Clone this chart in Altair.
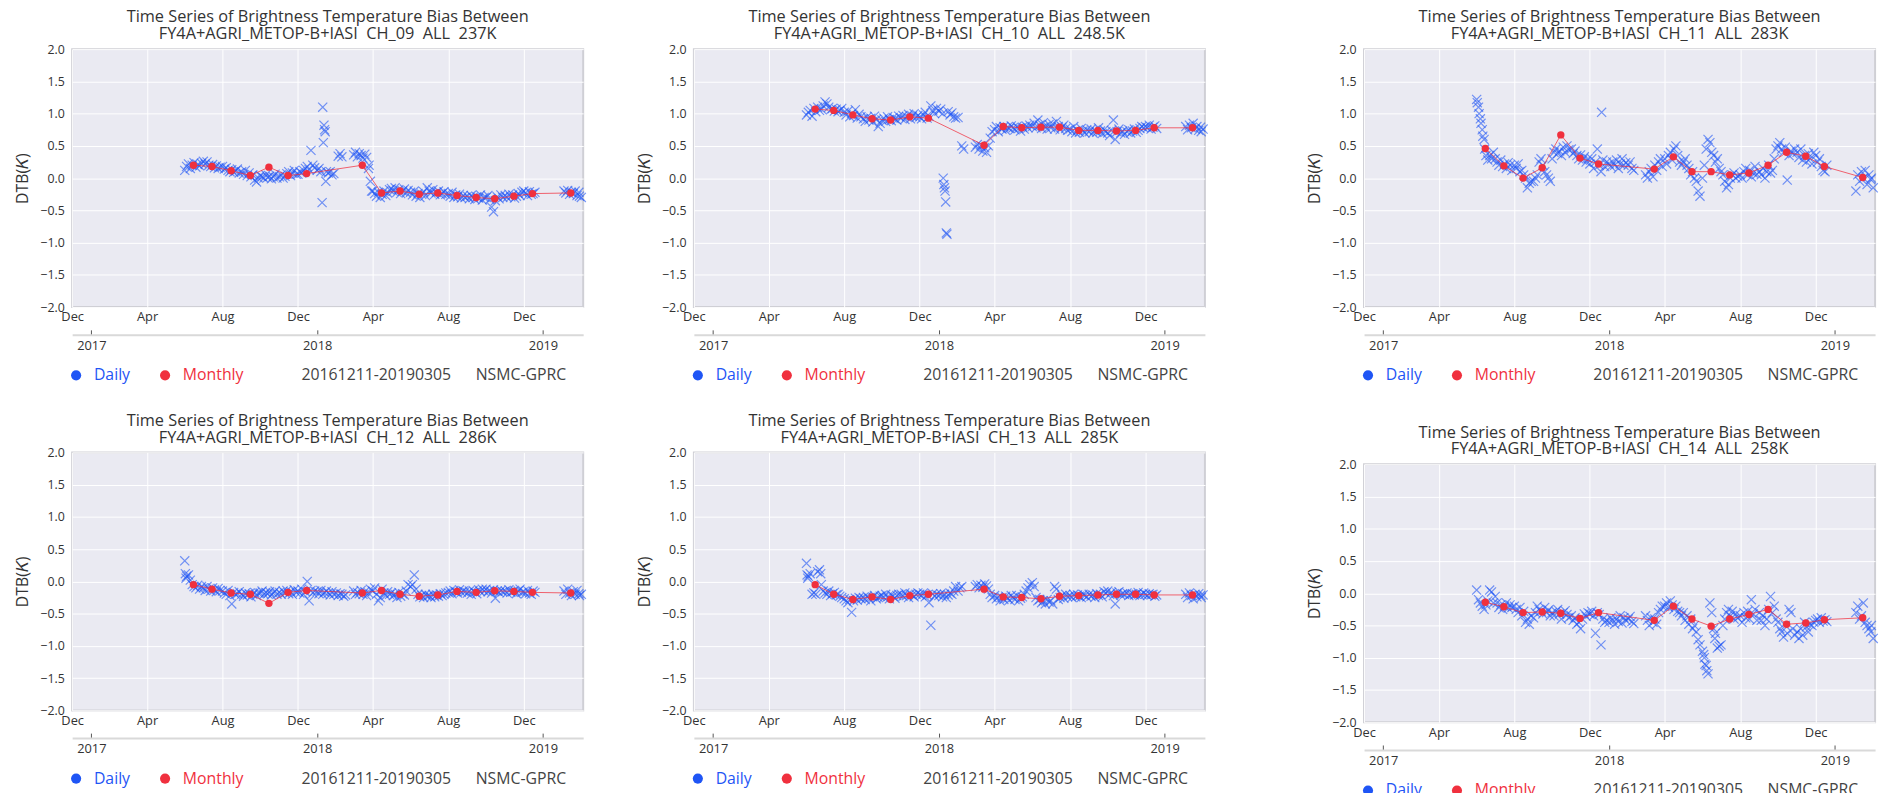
import altair as alt
import pandas as pd

FONT = "Open Sans"
BLUE = "#1f55f5"
RED = "#f0303e"
BG = "#eaeaf2"
TEXT = "#333333"
N = None

# Daily bias values sampled on these days of each month
SAMPLE_DAYS = [1, 4, 7, 10, 13, 16, 19, 22, 25, 28]
DAILY_MONTHS = ["2017-06", "2017-07", "2017-08", "2017-09", "2017-10", "2017-11", "2017-12",
                "2018-01", "2018-02", "2018-03", "2018-04", "2018-05", "2018-06", "2018-07",
                "2018-08", "2018-09", "2018-10", "2018-11", "2018-12", "2019-01", "2019-02", "2019-03"]
MONTHLY_MONTHS = DAILY_MONTHS[:-1]

# ---------------- CH_09 ----------------
CH09_DAILY = [
    [0.12, 0.18, 0.22, 0.15, 0.20, 0.24, 0.17, 0.21, 0.19, 0.23],
    [0.26, 0.22, 0.25, 0.20, 0.18, 0.21, 0.16, 0.19, 0.15, 0.17],
    [0.18, 0.14, 0.16, 0.12, 0.10, 0.13, 0.09, 0.11, 0.14, 0.08],
    [0.10, 0.06, 0.12, 0.04, 0.08, 0.02, 0.05, -0.03, -0.06, 0.00],
    [0.04, 0.02, 0.00, 0.05, 0.01, 0.03, -0.01, 0.02, 0.06, 0.00],
    [0.02, 0.05, 0.00, 0.03, 0.07, 0.10, 0.04, 0.08, 0.12, 0.06],
    [0.06, 0.10, 0.08, 0.12, 0.15, 0.18, 0.13, 0.43, 0.20, 0.16],
    [0.12, 0.15, 0.10, 1.10, 0.75, 0.10, 0.08, 0.10, 0.05, 0.07],
    [N, 0.34, 0.38, 0.33, N, N, N, N, N, N],
    [0.36, 0.40, 0.33, 0.38, 0.35, 0.31, 0.37, 0.32, 0.15, -0.05],
    [-0.20, -0.24, -0.28, -0.22, -0.30, -0.25, -0.20, -0.27, -0.23, -0.18],
    [-0.16, -0.20, -0.15, -0.22, -0.18, -0.24, -0.20, -0.17, -0.23, -0.19],
    [-0.22, -0.26, -0.20, -0.28, -0.24, -0.30, -0.25, -0.21, -0.27, -0.15],
    [-0.20, -0.23, -0.18, -0.25, -0.22, -0.20, -0.26, -0.24, -0.21, -0.25],
    [-0.24, -0.28, -0.22, -0.30, -0.26, -0.29, -0.25, -0.31, -0.27, -0.30],
    [-0.28, -0.32, -0.27, -0.30, -0.33, -0.29, -0.31, -0.26, -0.34, -0.30],
    [-0.30, -0.27, -0.33, -0.45, -0.52, -0.35, -0.29, -0.32, -0.26, -0.30],
    [-0.27, -0.30, -0.25, -0.29, -0.26, -0.31, -0.28, -0.24, -0.27, -0.22],
    [-0.20, -0.23, -0.27, -0.21, -0.25, -0.24, -0.22, N, N, N],
    [N, N, N, N, N, N, N, N, N, N],
    [N, -0.20, -0.23, -0.19, -0.25, -0.22, -0.24, -0.20, -0.27, -0.22],
    [-0.28, -0.30],
]
CH09_EXTRA_DATES = ["2018-01-09", "2018-01-11", "2018-01-12", "2018-01-14", "2018-01-15", "2018-03-26", "2018-03-30"]
CH09_EXTRA_VALUES = [-0.38, 0.55, 0.82, 0.72, -0.05, 0.20, -0.20]
CH09_MONTHLY = [0.20, 0.18, 0.115, 0.04, 0.17, 0.04, 0.07, N, N, 0.20, -0.23, -0.20, -0.25, -0.23,
                -0.27, -0.30, -0.32, -0.28, -0.24, N, -0.23]

# ---------------- CH_10 ----------------
CH10_DAILY = [
    [0.98, 1.02, 1.05, 0.96, 1.08, 1.03, 1.10, 1.05, 1.07, 1.12],
    [1.18, 1.15, 1.10, 1.06, 1.08, 1.04, 1.07, 1.03, 1.05, 1.08],
    [1.02, 0.98, 1.04, 0.95, 1.00, 0.97, 1.06, 0.93, 0.99, 0.95],
    [0.92, 0.88, 0.95, 0.90, 0.93, 0.87, 0.96, 0.91, 0.80, 0.85],
    [0.90, 0.93, 0.88, 0.95, 0.91, 0.89, 0.94, 0.92, 0.90, 0.96],
    [0.93, 0.97, 0.91, 0.95, 0.99, 0.92, 0.96, 1.00, 0.94, 0.97],
    [0.95, 0.92, 0.98, 1.02, 0.93, 0.96, 1.12, 1.05, 1.00, 1.08],
    [1.04, 1.07, 1.00, -0.15, -0.85, 1.03, 0.98, 1.01, 0.95, 0.93],
    [0.94, N, 0.50, 0.45, N, N, N, N, N, N],
    [0.48, 0.52, 0.45, 0.50, 0.42, 0.47, 0.40, 0.50, 0.62, 0.72],
    [0.75, 0.80, 0.72, 0.78, 0.76, 0.80, 0.74, 0.79, 0.77, 0.81],
    [0.78, 0.75, 0.80, 0.77, 0.73, 0.79, 0.76, 0.81, 0.78, 0.82],
    [0.80, 0.85, 0.78, 0.90, 0.82, 0.77, 0.86, 0.80, 0.76, 0.83],
    [0.78, 0.84, 0.76, 0.88, 0.80, 0.75, 0.79, 0.82, 0.77, 0.74],
    [0.76, 0.72, 0.80, 0.70, 0.74, 0.71, 0.77, 0.73, 0.70, 0.75],
    [0.72, 0.76, 0.70, 0.74, 0.71, 0.78, 0.73, 0.69, 0.75, 0.72],
    [0.70, 0.66, 0.74, 0.90, 0.60, 0.72, 0.76, 0.70, 0.73, 0.68],
    [0.72, 0.75, 0.70, 0.73, 0.76, 0.71, 0.74, 0.77, 0.80, 0.78],
    [0.80, 0.78, 0.82, 0.76, 0.79, 0.81, 0.77, N, N, N],
    [N, N, N, N, N, N, N, N, N, N],
    [N, 0.80, 0.75, 0.82, 0.78, 0.85, 0.76, 0.80, 0.74, 0.79],
    [0.72, 0.76],
]
CH10_EXTRA_DATES = ["2018-01-08", "2018-01-09", "2018-01-11", "2018-01-12", "2018-01-14"]
CH10_EXTRA_VALUES = [0.00, -0.10, -0.20, -0.37, -0.87]
CH10_MONTHLY = [1.07, 1.05, 0.98, 0.92, 0.90, 0.95, 0.93, N, N, 0.51, 0.80, 0.78, 0.79, 0.79,
                0.74, 0.74, 0.73, 0.74, 0.78, N, 0.78]

# ---------------- CH_11 ----------------
CH11_DAILY = [
    [1.22, 1.10, 0.92, 0.75, 0.60, 0.35, 0.28, 0.35, 0.30, 0.40],
    [0.30, 0.25, 0.20, 0.28, 0.18, 0.22, 0.15, 0.24, 0.20, 0.12],
    [0.20, 0.15, 0.22, 0.10, 0.12, 0.05, 0.00, -0.15, -0.08, -0.05],
    [-0.05, 0.00, 0.05, 0.25, 0.30, 0.20, 0.10, 0.05, 0.00, -0.05],
    [0.30, 0.40, 0.45, 0.38, 0.42, 0.35, 0.48, 0.40, 0.50, 0.44],
    [0.45, 0.38, 0.42, 0.35, 0.30, 0.36, 0.28, 0.33, 0.25, 0.30],
    [0.22, 0.30, 0.15, 0.25, 0.45, 0.20, 0.10, 0.28, 0.18, 0.25],
    [0.22, 0.18, 0.25, 0.20, 0.28, 0.15, 0.22, 0.30, 0.20, 0.24],
    [0.20, 0.25, 0.15, 0.12, N, N, N, N, N, N],
    [0.05, 0.00, 0.10, 0.15, 0.02, 0.20, 0.12, 0.25, 0.30, 0.18],
    [0.30, 0.22, 0.35, 0.40, 0.28, 0.45, 0.50, 0.35, 0.25, 0.20],
    [0.25, 0.30, 0.20, 0.15, 0.05, 0.10, 0.00, -0.05, -0.20, -0.28],
    [0.00, 0.20, 0.45, 0.60, 0.55, 0.40, 0.35, 0.25, 0.30, 0.15],
    [0.10, 0.05, -0.05, -0.15, -0.10, 0.00, 0.05, 0.08, 0.00, 0.03],
    [0.05, 0.00, 0.10, 0.15, 0.05, 0.12, 0.02, 0.08, 0.18, 0.06],
    [0.10, 0.05, 0.15, 0.00, 0.10, 0.20, 0.08, 0.12, 0.30, 0.45],
    [0.50, 0.55, 0.45, 0.40, 0.48, -0.03, 0.35, 0.42, 0.38, 0.45],
    [0.40, 0.32, 0.45, 0.28, 0.35, 0.25, 0.38, 0.30, 0.22, 0.40],
    [0.35, 0.25, 0.30, 0.18, 0.12, 0.10, 0.20, N, N, N],
    [N, N, N, N, N, N, N, N, N, N],
    [N, -0.20, 0.05, -0.05, 0.10, 0.00, 0.12, -0.10, 0.05, -0.02],
    [0.00, -0.15],
]
CH11_EXTRA_DATES = ["2017-06-02", "2017-06-05", "2017-06-08", "2017-06-11", "2017-06-14", "2017-12-20"]
CH11_EXTRA_VALUES = [1.17, 1.00, 0.85, 0.65, 0.45, 1.02]
CH11_MONTHLY = [0.46, 0.19, 0.00, 0.16, 0.67, 0.31, 0.22, N, N, 0.14, 0.33, 0.10, 0.10, 0.05,
                0.08, 0.20, 0.40, 0.34, 0.18, N, 0.01]

# ---------------- CH_12 ----------------
CH12_DAILY = [
    [0.32, 0.08, 0.10, 0.02, -0.05, -0.08, -0.10, -0.06, -0.12, -0.08],
    [-0.10, -0.14, -0.08, -0.12, -0.15, -0.10, -0.13, -0.16, -0.11, -0.14],
    [-0.15, -0.18, -0.20, -0.14, -0.22, -0.35, -0.17, -0.20, -0.19, -0.16],
    [-0.20, -0.23, -0.18, -0.21, -0.19, -0.24, -0.20, -0.17, -0.22, -0.18],
    [-0.18, -0.15, -0.20, -0.17, -0.19, -0.16, -0.21, -0.18, -0.15, -0.20],
    [-0.17, -0.20, -0.15, -0.18, -0.14, -0.19, -0.16, -0.20, -0.13, -0.17],
    [-0.15, -0.18, -0.12, -0.20, -0.16, 0.00, -0.30, -0.14, -0.18, -0.15],
    [-0.16, -0.19, -0.14, -0.20, -0.17, -0.15, -0.18, -0.21, -0.16, -0.20],
    [-0.18, -0.22, -0.19, -0.20, -0.23, -0.21, N, N, N, N],
    [-0.15, -0.20, -0.17, -0.19, -0.14, -0.20, -0.16, -0.22, -0.18, -0.12],
    [-0.15, -0.10, -0.20, -0.30, -0.25, -0.12, -0.18, -0.22, -0.16, -0.20],
    [-0.18, -0.22, -0.20, -0.25, -0.17, -0.23, -0.19, -0.21, -0.15, -0.05],
    [-0.08, -0.05, 0.10, -0.12, -0.20, -0.24, -0.22, -0.25, -0.20, -0.23],
    [-0.22, -0.25, -0.20, -0.24, -0.21, -0.23, -0.19, -0.22, -0.20, -0.18],
    [-0.17, -0.15, -0.19, -0.14, -0.16, -0.18, -0.13, -0.17, -0.15, -0.16],
    [-0.18, -0.15, -0.20, -0.14, -0.17, -0.19, -0.13, -0.16, -0.12, -0.15],
    [-0.12, -0.16, -0.14, -0.18, -0.13, -0.26, -0.15, -0.17, -0.14, -0.16],
    [-0.15, -0.18, -0.13, -0.17, -0.16, -0.14, -0.19, -0.15, -0.12, -0.17],
    [-0.16, -0.19, -0.14, -0.18, -0.20, -0.15, -0.17, N, N, N],
    [N, N, N, N, N, N, N, N, N, N],
    [N, -0.15, -0.20, -0.12, -0.18, -0.22, -0.16, -0.20, -0.14, -0.19],
    [-0.22, -0.20],
]
CH12_EXTRA_DATES = ["2017-06-02", "2017-06-03"]
CH12_EXTRA_VALUES = [0.12, 0.05]
CH12_MONTHLY = [-0.05, -0.12, -0.18, -0.20, -0.34, -0.17, -0.14, N, N, -0.18, -0.14, -0.20, -0.23, -0.21,
                -0.155, -0.17, -0.145, -0.155, -0.17, N, -0.18]

# ---------------- CH_13 ----------------
CH13_DAILY = [
    [0.28, 0.08, 0.12, -0.20, -0.18, -0.20, 0.15, 0.18, -0.05, -0.15],
    [-0.18, -0.20, -0.15, -0.22, -0.19, -0.17, -0.21, -0.20, -0.23, -0.25],
    [-0.27, -0.30, -0.33, -0.28, -0.48, -0.30, -0.26, -0.29, -0.25, -0.27],
    [-0.25, -0.28, -0.23, -0.26, -0.30, -0.24, -0.22, -0.27, -0.25, -0.23],
    [-0.22, -0.25, -0.20, -0.24, -0.27, -0.21, -0.23, -0.26, -0.22, -0.20],
    [-0.20, -0.23, -0.18, -0.22, -0.25, -0.19, -0.21, -0.24, -0.20, -0.18],
    [-0.20, -0.22, -0.18, -0.24, -0.21, -0.33, -0.68, -0.19, -0.23, -0.20],
    [-0.22, -0.19, -0.24, -0.20, -0.25, -0.21, -0.18, -0.20, -0.15, -0.08],
    [-0.15, -0.10, -0.08, N, N, N, N, N, N, N],
    [-0.08, -0.05, -0.10, -0.06, -0.09, -0.04, -0.07, -0.12, -0.20, -0.25],
    [-0.22, -0.27, -0.24, -0.30, -0.25, -0.28, -0.23, -0.26, -0.29, -0.22],
    [-0.25, -0.28, -0.22, -0.30, -0.26, -0.24, -0.20, -0.15, -0.10, -0.05],
    [-0.02, -0.08, -0.25, -0.30, -0.28, -0.33, -0.30, -0.35, -0.28, -0.32],
    [-0.30, -0.35, -0.08, -0.12, -0.28, -0.25, -0.22, -0.26, -0.20, -0.24],
    [-0.22, -0.25, -0.20, -0.24, -0.21, -0.23, -0.25, -0.20, -0.22, -0.24],
    [-0.20, -0.23, -0.21, -0.25, -0.19, -0.22, -0.20, -0.24, -0.16, -0.18],
    [-0.15, -0.20, -0.17, -0.22, -0.35, -0.18, -0.16, -0.21, -0.19, -0.20],
    [-0.18, -0.22, -0.20, -0.19, -0.21, -0.20, -0.17, -0.22, -0.20, -0.18],
    [-0.20, -0.22, -0.19, -0.21, -0.20, -0.23, -0.21, N, N, N],
    [N, N, N, N, N, N, N, N, N, N],
    [N, -0.20, -0.25, -0.18, -0.22, -0.27, -0.20, -0.24, -0.19, -0.22],
    [-0.25, -0.21],
]
CH13_EXTRA_DATES = ["2017-06-02", "2017-06-03", "2017-06-24"]
CH13_EXTRA_VALUES = [0.10, 0.05, 0.12]
CH13_MONTHLY = [-0.05, -0.20, -0.28, -0.24, -0.28, -0.22, -0.20, N, N, -0.12, -0.24, -0.25, -0.27, -0.23,
                -0.22, -0.21, -0.20, -0.20, -0.21, N, -0.21]

# ---------------- CH_14 ----------------
CH14_DAILY = [
    [0.05, -0.10, -0.15, -0.20, -0.25, -0.18, -0.12, 0.05, 0.02, -0.15],
    [-0.05, -0.15, -0.22, -0.18, -0.25, -0.20, -0.15, -0.23, -0.18, -0.22],
    [-0.20, -0.25, -0.30, -0.22, -0.35, -0.28, -0.45, -0.40, -0.48, -0.35],
    [-0.38, -0.30, -0.20, -0.25, -0.28, -0.32, -0.22, -0.30, -0.26, -0.35],
    [-0.30, -0.35, -0.28, -0.25, -0.32, -0.40, -0.30, -0.27, -0.33, -0.38],
    [-0.35, -0.42, -0.38, -0.48, -0.45, -0.55, -0.40, -0.32, -0.36, -0.30],
    [-0.32, -0.28, -0.35, -0.62, -0.30, -0.33, -0.80, -0.40, -0.45, -0.42],
    [-0.45, -0.38, -0.42, -0.48, -0.40, -0.44, -0.35, -0.46, -0.38, -0.42],
    [-0.40, -0.36, -0.44, -0.47, N, N, N, N, N, N],
    [-0.35, -0.42, -0.50, -0.38, -0.45, -0.40, -0.48, -0.30, -0.25, -0.20],
    [-0.20, -0.15, -0.22, -0.12, -0.18, -0.25, -0.20, -0.28, -0.30, -0.35],
    [-0.30, -0.42, -0.35, -0.48, -0.40, -0.55, -0.50, -0.60, -0.72, -0.80],
    [-0.90, -1.00, -1.12, -1.25, -0.15, -0.30, -0.55, -0.62, -0.85, -0.82],
    [-0.80, -0.50, -0.40, -0.30, -0.25, -0.35, -0.28, -0.40, -0.32, -0.38],
    [-0.35, -0.45, -0.30, -0.38, -0.28, -0.40, -0.10, -0.32, -0.25, -0.42],
    [-0.30, -0.42, -0.35, -0.50, -0.40, -0.25, -0.05, -0.30, -0.20, -0.40],
    [-0.45, -0.55, -0.60, -0.68, -0.50, -0.62, -0.25, -0.30, -0.55, -0.65],
    [-0.60, -0.70, -0.55, -0.65, -0.45, -0.52, -0.60, -0.48, -0.50, -0.45],
    [-0.42, -0.40, -0.45, -0.38, -0.43, -0.41, -0.44, N, N, N],
    [N, N, N, N, N, N, N, N, N, N],
    [N, -0.30, -0.20, -0.40, -0.35, -0.15, -0.45, -0.50, -0.55, -0.60],
    [-0.50, -0.70],
]
CH14_EXTRA_DATES = ["2018-06-03", "2018-06-05", "2018-06-08", "2018-06-21"]
CH14_EXTRA_VALUES = [-0.95, -1.10, -1.20, -0.70]
CH14_MONTHLY = [-0.14, -0.21, -0.30, -0.29, -0.31, -0.39, -0.30, N, N, -0.42, -0.20, -0.40, -0.51, -0.40,
                -0.33, -0.25, -0.48, -0.46, -0.41, N, -0.38]

PLOT_W = 517
PLOT_H = 261
X_PATH = "M-1,-1L1,1M-1,1L1,-1"
FOOTER = "20161211-20190305" + "\u00a0" * 6 + "NSMC-GPRC"


def dt(y, m, d):
    return alt.DateTime(year=y, month=m, date=d, utc=True)


X_DOMAIN = [dt(2016, 12, 1), dt(2019, 3, 7)]
MONTH_TICKS = [dt(2016, 12, 1), dt(2017, 4, 1), dt(2017, 8, 1), dt(2017, 12, 1),
               dt(2018, 4, 1), dt(2018, 8, 1), dt(2018, 12, 1)]
YEAR_TICKS = [dt(2017, 1, 1), dt(2018, 1, 1), dt(2019, 1, 1)]
Y_TICKS = [-2.0, -1.5, -1.0, -0.5, 0.0, 0.5, 1.0, 1.5, 2.0]


def daily_frame(rows, extra_dates, extra_values):
    recs = []
    for month, row in zip(DAILY_MONTHS, rows):
        for day, v in zip(SAMPLE_DAYS, row):
            if v is not None:
                recs.append({"date": f"{month}-{day:02d}", "value": v})
    for d, v in zip(extra_dates, extra_values):
        recs.append({"date": d, "value": v})
    return pd.DataFrame(recs)


def monthly_frame(values):
    recs = [{"date": f"{m}-15", "value": v, "series": "Monthly"}
            for m, v in zip(MONTHLY_MONTHS, values) if v is not None]
    return pd.DataFrame(recs)


def panel(channel, temp, rows, ex_dates, ex_values, monthly, lead):
    xscale = alt.Scale(type="utc", domain=X_DOMAIN)
    yscale = alt.Scale(domain=[-2, 2])

    month_axis = alt.Axis(
        orient="bottom", values=MONTH_TICKS, format="%b", title=None,
        grid=True, gridColor="white", gridWidth=1, ticks=False, domain=False,
        labelFont=FONT, labelFontSize=13, labelColor=TEXT, labelPadding=4,
        labelFlush=False, labelOverlap=False,
    )
    # year row drawn as a second axis sitting below the month labels
    year_axis = alt.Axis(
        orient="top", offset=-(PLOT_H + 28), values=YEAR_TICKS, format="%Y", title=None,
        grid=False, domain=True, domainColor="#d9d9d9", domainWidth=2,
        ticks=True, tickColor="#555555", tickSize=5, tickWidth=1,
        labelFont=FONT, labelFontSize=13, labelColor=TEXT, labelBaseline="middle",
        labelPadding=-16, labelFlush=False, labelOverlap=False,
    )
    y_axis = alt.Axis(
        values=Y_TICKS, format=".1f", grid=True, gridColor="white", gridWidth=1,
        ticks=False, domain=False, labelFont=FONT, labelFontSize=12.5, labelColor=TEXT,
        labelPadding=8, labelFlush=False, minExtent=lead,
        title="DTB(\U0001D43E)", titleFont=FONT, titleFontSize=16, titleFontWeight="normal",
        titleColor=TEXT, titleX=-50, titleY=PLOT_H / 2, titleAngle=270,
        titleBaseline="middle", titleAlign="center",
    )
    legend = alt.Legend(
        orient="none", legendX=-4, legendY=PLOT_H + 61, direction="horizontal",
        title=FOOTER, titleOrient="right",
        titleFont=FONT, titleFontSize=16, titleFontWeight="normal", titleColor="#444444",
        titlePadding=59, titleLimit=500, titleBaseline="middle",
        symbolType="circle", symbolSize=105, symbolStrokeWidth=0, symbolOpacity=1,
        labelFont=FONT, labelFontSize=16, labelOffset=10, columnPadding=27,
        labelColor={"expr": f"datum.label == 'Daily' ? '{BLUE}' : '{RED}'"},
        padding=0,
    )

    mdf = monthly_frame(monthly)
    y_enc = alt.Y("value:Q", scale=yscale, axis=y_axis)
    daily = alt.Chart(daily_frame(rows, ex_dates, ex_values)).mark_point(
        shape=X_PATH, filled=False, size=85, strokeWidth=1.2, opacity=0.6, color=BLUE
    ).encode(
        x=alt.X("date:T", scale=xscale, axis=month_axis),
        y=y_enc,
    )
    line = alt.Chart(mdf).mark_line(color=RED, strokeWidth=1, opacity=0.75).encode(
        x=alt.X("date:T", scale=xscale, axis=None),
        y=y_enc,
    )
    dots = alt.Chart(mdf).mark_point(filled=True, size=56, opacity=1, shape="circle").encode(
        x=alt.X("date:T", scale=xscale, axis=year_axis),
        y=y_enc,
        color=alt.Color("series:N",
                        scale=alt.Scale(domain=["Daily", "Monthly"], range=[BLUE, RED]),
                        legend=legend),
    )
    title = alt.TitleParams(
        text=["Time Series of Brightness Temperature Bias Between",
              f"FY4A+AGRI_METOP-B+IASI\u00a0\u00a0{channel}\u00a0\u00a0ALL\u00a0\u00a0{temp}"],
        font=FONT, fontSize=16.5, fontWeight="normal", color=TEXT, lineHeight=17,
        offset=0.5, anchor="middle",
    )
    return alt.layer(daily, line, dots).resolve_axis(x="independent").properties(
        width=PLOT_W, height=PLOT_H, title=title
    )


def indep(c):
    return c.resolve_scale(color="independent").resolve_legend(color="independent")


# left extents (axis room) of each panel; the first panels of both rows share one
p09 = panel("CH_09", "237K", CH09_DAILY, CH09_EXTRA_DATES, CH09_EXTRA_VALUES, CH09_MONTHLY, 72)
p10 = panel("CH_10", "248.5K", CH10_DAILY, CH10_EXTRA_DATES, CH10_EXTRA_VALUES, CH10_MONTHLY, 104)
p11 = panel("CH_11", "283K", CH11_DAILY, CH11_EXTRA_DATES, CH11_EXTRA_VALUES, CH11_MONTHLY, 153)
p12 = panel("CH_12", "286K", CH12_DAILY, CH12_EXTRA_DATES, CH12_EXTRA_VALUES, CH12_MONTHLY, 72)
p13 = panel("CH_13", "285K", CH13_DAILY, CH13_EXTRA_DATES, CH13_EXTRA_VALUES, CH13_MONTHLY, 104)
p14 = panel("CH_14", "258K", CH14_DAILY, CH14_EXTRA_DATES, CH14_EXTRA_VALUES, CH14_MONTHLY, 153)

left_block = indep(alt.vconcat(
    indep(alt.hconcat(p09, p10, spacing=0)),
    indep(alt.hconcat(p12, p13, spacing=0)),
    spacing=28,
))
right_block = indep(alt.vconcat(p11, p14, spacing=40))

chart = indep(alt.hconcat(left_block, right_block, spacing=0)).properties(
    padding={"left": 0, "top": 4, "right": 0, "bottom": 0},
    background="white",
).configure(font=FONT).configure_view(fill=BG, stroke="#cfcfd5", strokeWidth=2)

chart.save("out.html", embed_options={"renderer": "svg", "actions": False})
